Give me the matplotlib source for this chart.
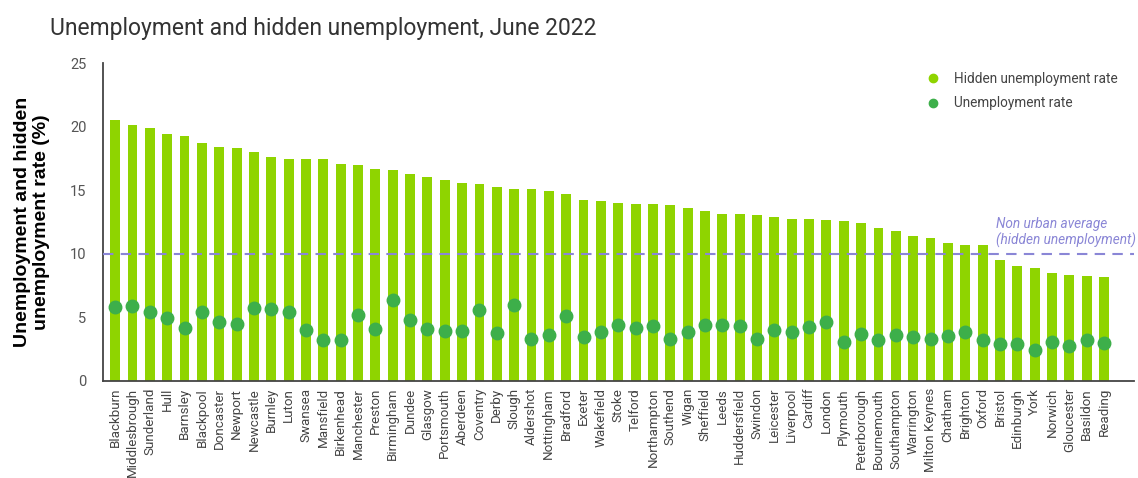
import matplotlib
matplotlib.use("Agg")
from matplotlib import pyplot as plt
from matplotlib.lines import Line2D
import numpy as np

cities = ["Blackburn", "Middlesbrough", "Sunderland", "Hull", "Barnsley", "Blackpool",
          "Doncaster", "Newport", "Newcastle", "Burnley", "Luton", "Swansea", "Mansfield",
          "Birkenhead", "Manchester", "Preston", "Birmingham", "Dundee", "Glasgow",
          "Portsmouth", "Aberdeen", "Coventry", "Derby", "Slough", "Aldershot",
          "Nottingham", "Bradford", "Exeter", "Wakefield", "Stoke", "Telford",
          "Northampton", "Southend", "Wigan", "Sheffield", "Leeds", "Huddersfield",
          "Swindon", "Leicester", "Liverpool", "Cardiff", "London", "Plymouth",
          "Peterborough", "Bournemouth", "Southampton", "Warrington", "Milton Keynes",
          "Chatham", "Brighton", "Oxford", "Bristol", "Edinburgh", "York", "Norwich",
          "Gloucester", "Basildon", "Reading"]

hidden_rate = [20.5, 20.1, 19.9, 19.4, 19.25, 18.7, 18.4, 18.3, 18.0, 17.6, 17.45, 17.45,
               17.45, 17.05, 17.0, 16.7, 16.6, 16.3, 16.05, 15.8, 15.6, 15.5, 15.25, 15.1,
               15.1, 14.95, 14.7, 14.2, 14.15, 14.0, 13.9, 13.9, 13.85, 13.6, 13.4, 13.1,
               13.1, 13.05, 12.9, 12.75, 12.75, 12.65, 12.6, 12.4, 12.0, 11.8, 11.4, 11.25,
               10.85, 10.7, 10.7, 9.5, 9.05, 8.9, 8.5, 8.35, 8.25, 8.2]

unemp_rate = [5.8, 5.9, 5.4, 4.95, 4.15, 5.4, 4.6, 4.5, 5.75, 5.65, 5.4, 4.0, 3.2, 3.2,
              5.2, 4.1, 6.4, 4.8, 4.1, 3.95, 3.95, 5.6, 3.8, 6.0, 3.3, 3.6, 5.1, 3.45,
              3.85, 4.4, 4.15, 4.3, 3.3, 3.85, 4.4, 4.4, 4.3, 3.3, 4.0, 3.85, 4.25, 4.65,
              3.05, 3.7, 3.2, 3.6, 3.45, 3.3, 3.55, 3.85, 3.2, 2.9, 2.9, 2.45, 3.05,
              2.75, 3.2, 3.0]

non_urban_avg = 10

bar_color = "#8fd400"
dot_color = "#3daf4a"
line_color = "#8a86d6"

plt.rcParams['font.family'] = ['Roboto', 'DejaVu Sans']

fig = plt.figure(figsize=(11.38, 4.78), dpi=100)
ax = fig.add_axes([0.0905, 0.203, 0.906, 0.665])

x = np.arange(len(cities))
ax.bar(x, hidden_rate, width=0.57, color=bar_color, zorder=2)
ax.plot(x, unemp_rate, 'o', color=dot_color, markersize=9, zorder=3)
ax.axhline(non_urban_avg, color=line_color, linestyle=(0, (5, 3.5)), linewidth=1.5, zorder=4)
ax.text(50.8, non_urban_avg + 0.45, "Non urban average\n(hidden unemployment)",
        ha="left", va="bottom", style="italic", color=line_color, fontsize=9.8,
        linespacing=1.15)

ax.set_xlim(-0.7, len(cities) + 0.73)
ax.set_ylim(0, 25)
ax.set_yticks([0, 5, 10, 15, 20, 25])
ax.set_xticks(x)
ax.set_xticklabels(cities, rotation=90, fontsize=9.6, color="#444444")
ax.tick_params(axis="y", length=0, labelsize=10.5, labelcolor="#555555", pad=12)
ax.tick_params(axis="x", length=0, pad=5)
for s in ["top", "right"]:
    ax.spines[s].set_visible(False)
for s in ["left", "bottom"]:
    ax.spines[s].set_color("#444444")
    ax.spines[s].set_linewidth(1.3)

ax.set_ylabel("Unemployment and hidden\nunemployment rate (%)", fontsize=14,
              fontweight="bold", family=['Liberation Sans', 'DejaVu Sans'], labelpad=14)

handles = [Line2D([], [], linestyle="none", marker="o", markersize=6, color=bar_color),
           Line2D([], [], linestyle="none", marker="o", markersize=6, color=dot_color)]
leg = ax.legend(handles, ["Hidden unemployment rate", "Unemployment rate"],
                loc="upper right", bbox_to_anchor=(0.996, 1.01), frameon=False,
                fontsize=9.8, handlelength=0.8, handletextpad=1.1, labelspacing=0.75)
for t in leg.get_texts():
    t.set_color("#444444")

fig.text(0.044, 0.94, "Unemployment and hidden unemployment, June 2022", fontsize=16.5,
         color="#333333", va="center")

fig.savefig("out.png", dpi=100)
